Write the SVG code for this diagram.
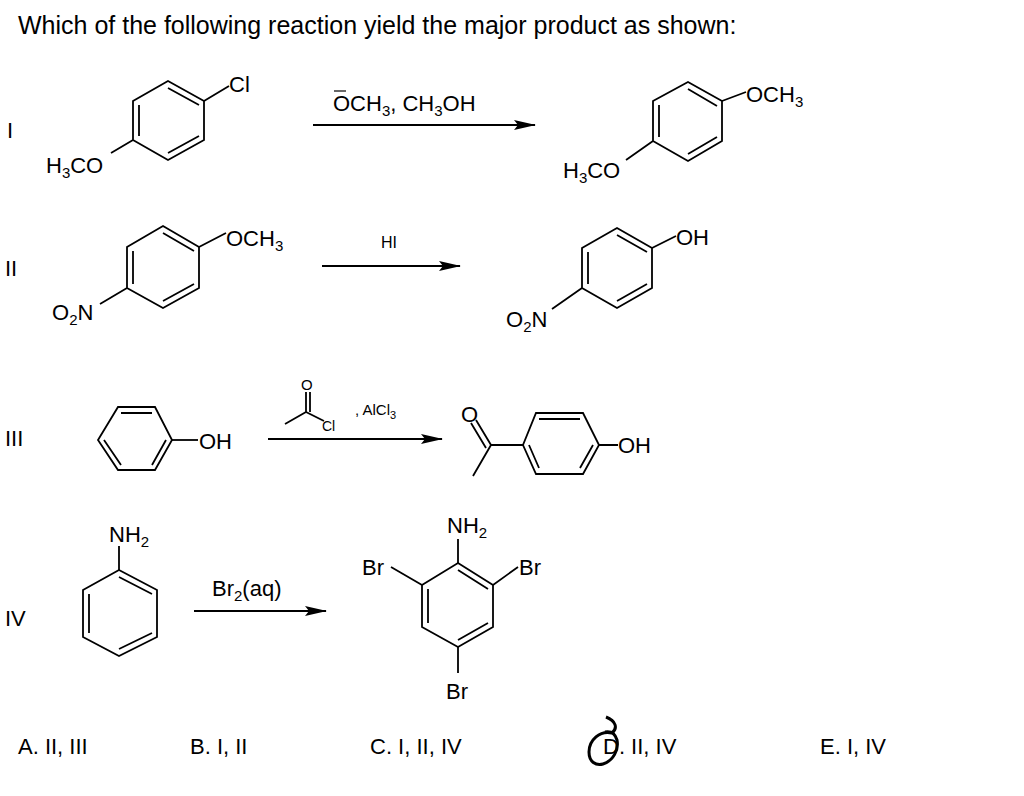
<svg xmlns="http://www.w3.org/2000/svg" width="1024" height="796" viewBox="0 0 1024 796">
<defs>
<marker id="ah" markerWidth="22" markerHeight="10" refX="21" refY="5" orient="auto" markerUnits="userSpaceOnUse"><path d="M0,0 L22,5 L0,10 L4,5 Z" fill="#000"/></marker>
</defs>
<style>
text{font-family:"Liberation Sans",Arial,sans-serif;fill:#000}
.t{font-size:25px}.l{font-size:22px}.s{font-size:15px}
.b{stroke:#000;stroke-width:1.8;fill:none}
.ar{stroke:#000;stroke-width:1.8;fill:none;marker-end:url(#ah)}
</style>
<rect width="1024" height="796" fill="#fff"/>
<text class="t" x="18" y="34">Which of the following reaction yield the major product as shown:</text>
<text class="l" x="7" y="138">I</text>
<text class="l" x="5" y="276">II</text>
<text class="l" x="5" y="446">III</text>
<text class="l" x="5" y="626">IV</text>

<g id="r1-reactant">
<path class="b" d="M168,81 L204,101 L204,140 L168,160 L133,140 L133,101 Z"/>
<path class="b" d="M139,105 L139,136 M168,88 L199,105 M168,153 L199,136"/>
<path class="b" d="M204,101 L229,86 M133,140 L111,153"/>
<text class="l" x="229" y="92">Cl</text>
<text class="l" x="46" y="173">H<tspan class="s" dy="5">3</tspan><tspan dy="-5">CO</tspan></text>
</g>
<g id="r1-product">
<path class="b" d="M688,82 L722,101 L722,141 L688,161 L653,141 L653,101 Z"/>
<path class="b" d="M659,105 L659,137 M688,89 L717,106 M688,154 L717,137"/>
<path class="b" d="M722,101 L746,92 M653,141 L626,160"/>
<text class="l" x="746" y="102">OCH<tspan class="s" dy="5">3</tspan></text>
<text class="l" x="563" y="178">H<tspan class="s" dy="5">3</tspan><tspan dy="-5">CO</tspan></text>
</g>
<g id="r2-reactant">
<path class="b" d="M163,226 L199,247 L199,288 L163,308 L127,288 L127,247 Z"/>
<path class="b" d="M133,251 L133,284 M163,233 L194,251 M163,301 L194,284"/>
<path class="b" d="M199,247 L226,233 M127,288 L100,304"/>
<text class="l" x="226" y="246">OCH<tspan class="s" dy="5">3</tspan></text>
<text class="l" x="52" y="320">O<tspan class="s" dy="5">2</tspan><tspan dy="-5">N</tspan></text>
</g>
<g id="r2-product">
<path class="b" d="M617,228 L652,248 L652,288 L617,308 L582,288 L582,248 Z"/>
<path class="b" d="M588,252 L588,284 M617,235 L647,252 M617,301 L647,284"/>
<path class="b" d="M652,248 L676,236 M582,288 L552,309"/>
<text class="l" x="676" y="245">OH</text>
<text class="l" x="506" y="327">O<tspan class="s" dy="5">2</tspan><tspan dy="-5">N</tspan></text>
</g>
<g id="r3-reactant">
<path class="b" d="M118,407 L155,407 L172,440 L155,470 L118,470 L98,440 Z"/>
<path class="b" d="M121,413 L152,413 M104,440 L121,465 M166,440 L152,465"/>
<path class="b" d="M172,440 L198,440"/>
<text class="l" x="199" y="449">OH</text>
</g>
<g id="r3-product">
<path class="b" d="M536,413 L583,413 L599,445 L583,474 L536,474 L523,445 Z"/>
<path class="b" d="M539,419 L580,419 M529,445 L539,468 M593,445 L580,468"/>
<path class="b" d="M599,445 L618,445 M523,445 L491,445 L473,476 M491,445 L476,420 M486,448 L471,423"/>
<text class="l" x="461" y="422">O</text>
<text class="l" x="618" y="453">OH</text>
</g>
<g id="r4-reactant">
<path class="b" d="M119,570 L157,590 L157,637 L119,656 L83,637 L83,590 Z"/>
<path class="b" d="M89,594 L89,633 M119,577 L152,594 M119,649 L152,633 M119,570 L119,546"/>
<text class="l" x="109" y="542">NH<tspan class="s" dy="5">2</tspan></text>
</g>
<g id="r4-product">
<path class="b" d="M458,563 L493,585 L493,627 L458,647 L422,627 L422,585 Z"/>
<path class="b" d="M428,589 L428,623 M458,570 L488,589 M458,640 L488,623"/>
<path class="b" d="M458,563 L458,539 M422,585 L391,567 M493,585 L518,567 M458,647 L458,673"/>
<text class="l" x="447" y="533">NH<tspan class="s" dy="5">2</tspan></text>
<text class="l" x="362" y="575">Br</text>
<text class="l" x="519" y="575">Br</text>
<text class="l" x="446" y="699">Br</text>
</g>
<g id="connectors">
<path class="ar" d="M313,125 L535,125"/>
<path class="ar" d="M322,266 L460,266"/>
<path class="ar" d="M268,439 L442,439"/>
<path class="ar" d="M194,611 L326,611"/>
</g>
<g id="reagents">
<text class="l" x="333" y="111">OCH<tspan class="s" dy="5">3</tspan><tspan dy="-5">, CH</tspan><tspan class="s" dy="5">3</tspan><tspan dy="-5">OH</tspan></text>
<path class="b" d="M334,91 L346,91" style="stroke-width:1.2"/>
<text x="381" y="248" style="font-size:16px">HI</text>
<path class="b" d="M285,424 L306,412 L324,421 M306,412 L306,392 M310,412 L310,392"/>
<text x="301" y="390" style="font-size:15px">O</text>
<text x="322" y="431" style="font-size:14px">Cl</text>
<text x="355" y="415" style="font-size:15px">, AlCl<tspan dy="4" style="font-size:11px">3</tspan></text>
<text class="l" x="212" y="596">Br<tspan class="s" dy="5">2</tspan><tspan dy="-5">(aq)</tspan></text>
</g>
<g id="answers">
<text class="l" x="18" y="754">A. II, III</text>
<text class="l" x="190" y="754">B. I, II</text>
<text class="l" x="370" y="754">C. I, II, IV</text>
<text class="l" x="603" y="754">D. II, IV</text>
<text class="l" x="820" y="754">E. I, IV</text>
<path d="M606,717 C616,721 618,728 612,733 C600,730 589,740 589,752 C589,762 596,766 603,764 C613,761 619,750 617,740 C615,733 611,731 605,732" fill="none" stroke="#000" stroke-width="3"/>
</g>
</svg>
